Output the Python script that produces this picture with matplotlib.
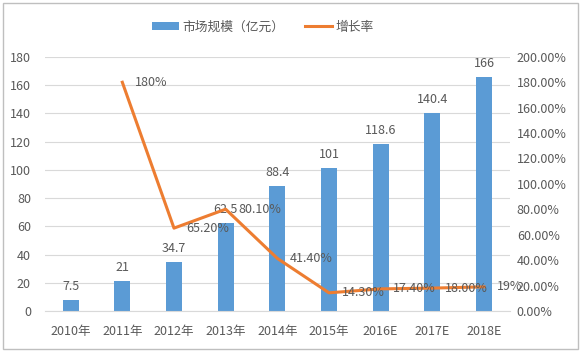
import matplotlib.pyplot as plt
from matplotlib.patches import Rectangle

plt.rcParams['font.family'] = ['Noto Sans CJK SC', 'DejaVu Sans']

# data
years = ['2010年', '2011年', '2012年', '2013年', '2014年', '2015年', '2016E', '2017E', '2018E']
market_size = [7.5, 21, 34.7, 62.5, 88.4, 101, 118.6, 140.4, 166]
size_labels = ['7.5', '21', '34.7', '62.5', '88.4', '101', '118.6', '140.4', '166']
growth = [180, 65.2, 80.1, 41.4, 14.3, 17.4, 18.0, 19]
growth_labels = ['180%', '65.20%', '80.10%', '41.40%', '14.30%', '17.40%', '18.00%', '19%']

bar_color = '#5B9BD5'
line_color = '#ED7D31'
text_color = '#595959'
fs = 9

fig = plt.figure(figsize=(5.82, 3.53), dpi=100)
ax = fig.add_axes([0.077, 0.119, 0.799, 0.72])
ax2 = ax.twinx()

x = list(range(len(years)))
bars = ax.bar(x, market_size, width=0.31, color=bar_color, zorder=2)
for xi, v, lab in zip(x, market_size, size_labels):
    ax.annotate(lab, (xi, v), xytext=(0, 5), textcoords='offset points',
                ha='center', va='bottom', fontsize=fs, color=text_color)

ax.set_xlim(-0.5, len(years) - 0.5)
ax.set_ylim(0, 180)
ax.set_yticks(range(0, 181, 20))
ax.set_xticks(x)
ax.set_xticklabels(years)
ax.grid(axis='y', color='#D9D9D9', linewidth=0.8, zorder=0)
ax.set_axisbelow(True)

# growth line starts in 2011
lx = x[1:]
line, = ax2.plot(lx, growth, color=line_color, linewidth=2.2, zorder=3)
for xi, v, lab in zip(lx, growth, growth_labels):
    ax2.annotate(lab, (xi, v), xytext=(9, 0), textcoords='offset points',
                 ha='left', va='center', fontsize=fs, color=text_color)
ax2.set_ylim(0, 200)
ax2.set_yticks(range(0, 201, 20))
ax2.set_yticklabels([f'{t:.2f}%' for t in range(0, 201, 20)])

for a in (ax, ax2):
    for s in a.spines.values():
        s.set_visible(False)
    a.tick_params(length=0, labelsize=fs, colors=text_color)
ax.spines['bottom'].set_visible(True)
ax.spines['bottom'].set_color('#D9D9D9')
ax.tick_params(axis='x', pad=10)
ax.tick_params(axis='y', pad=10)
ax2.tick_params(axis='y', pad=5)

fig.legend([bars, line], ['市场规模（亿元）', '增长率'], loc='center',
           bbox_to_anchor=(0.452, 0.923), ncol=2, frameon=False, fontsize=9.2,
           handlelength=2.1, handleheight=0.6, handletextpad=0.3,
           columnspacing=1.6, labelcolor=text_color)

fig.patches.append(Rectangle((0.006, 0.012), 0.987, 0.98, transform=fig.transFigure,
                             fill=False, edgecolor='#BFBFBF', linewidth=1))

fig.savefig('out.png', dpi=100)
